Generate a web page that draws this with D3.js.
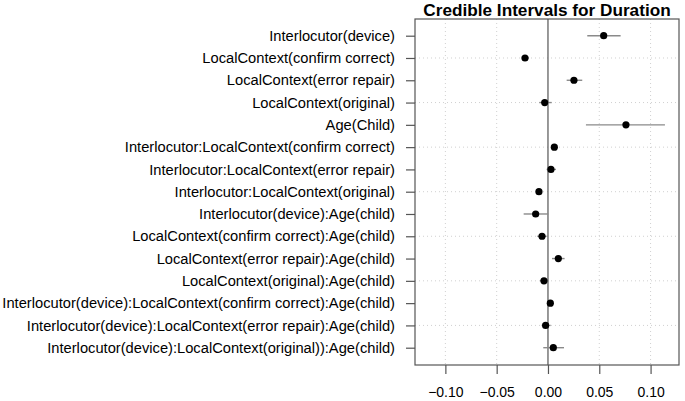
<!DOCTYPE html>
<html>
<head>
<meta charset="utf-8">
<script src="https://cdn.jsdelivr.net/npm/d3@7"></script>
<style>
  body { margin: 0; background: #fff; }
  text { font-family: "Liberation Sans", Arial, Helvetica, sans-serif; }
</style>
</head>
<body>
<div id="chart"></div>
<script>
var terms = [
  "Interlocutor(device)",
  "LocalContext(confirm correct)",
  "LocalContext(error repair)",
  "LocalContext(original)",
  "Age(Child)",
  "Interlocutor:LocalContext(confirm correct)",
  "Interlocutor:LocalContext(error repair)",
  "Interlocutor:LocalContext(original)",
  "Interlocutor(device):Age(child)",
  "LocalContext(confirm correct):Age(child)",
  "LocalContext(error repair):Age(child)",
  "LocalContext(original):Age(child)",
  "Interlocutor(device):LocalContext(confirm correct):Age(child)",
  "Interlocutor(device):LocalContext(error repair):Age(child)",
  "Interlocutor(device):LocalContext(original)):Age(child)"
];
var estimate = [0.0543, -0.0224, 0.0253, -0.0032, 0.0760, 0.0062, 0.0029, -0.0088,
                -0.0120, -0.0058, 0.0101, -0.0039, 0.0023, -0.0023, 0.0052];
var lower = [0.0383, -0.0256, 0.0182, -0.0085, 0.0370, 0.0030, -0.0013, -0.0115,
             -0.0237, -0.0104, 0.0039, -0.0078, -0.0010, -0.0062, -0.0046];
var upper = [0.0708, -0.0185, 0.0334, 0.0036, 0.1140, 0.0090, 0.0078, -0.0060,
             0.0003, -0.0013, 0.0162, 0.0006, 0.0052, 0.0026, 0.0156];
var xTicks = [-0.10, -0.05, 0.00, 0.05, 0.10];

(function () {
  var width = 685, height = 401;
  var mLeft = 415, mRight = 679, mTop = 19, mBottom = 365;

  var svg = d3.select("#chart").append("svg")
    .attr("width", width).attr("height", height);

  var x = d3.scaleLinear().domain([-0.1296, 0.1277]).range([mLeft, mRight]);
  var y = d3.scalePoint().domain(terms).range([35.7, 347.7]);

  var rows = terms.map(function (t, i) {
    return {term: t, est: estimate[i], lo: lower[i], hi: upper[i], i: i};
  });

  // grid
  svg.selectAll(".vgrid").data(xTicks.filter(function (d) { return d !== 0; }))
    .enter().append("line")
    .attr("x1", function (d) { return x(d); }).attr("x2", function (d) { return x(d); })
    .attr("y1", mTop).attr("y2", mBottom)
    .attr("stroke", "#d0d0d0").attr("stroke-dasharray", "1,3");

  svg.selectAll(".hgrid").data(rows.filter(function (d) { return d.i % 2 === 1; }))
    .enter().append("line")
    .attr("x1", mLeft).attr("x2", mRight)
    .attr("y1", function (d) { return y(d.term); }).attr("y2", function (d) { return y(d.term); })
    .attr("stroke", "#d0d0d0").attr("stroke-dasharray", "1,3");

  // zero line
  svg.append("line")
    .attr("x1", x(0)).attr("x2", x(0)).attr("y1", mTop).attr("y2", mBottom)
    .attr("stroke", "#555").attr("stroke-width", 1.2);

  // box
  svg.append("rect")
    .attr("x", mLeft).attr("y", mTop).attr("width", mRight - mLeft).attr("height", mBottom - mTop)
    .attr("fill", "none").attr("stroke", "#555").attr("stroke-width", 1.2);

  // intervals + points
  svg.selectAll(".ci").data(rows).enter().append("line")
    .attr("x1", function (d) { return x(d.lo); }).attr("x2", function (d) { return x(d.hi); })
    .attr("y1", function (d) { return y(d.term); }).attr("y2", function (d) { return y(d.term); })
    .attr("stroke", "#8a8a8a").attr("stroke-width", 1.4);

  svg.selectAll(".pt").data(rows).enter().append("circle")
    .attr("cx", function (d) { return x(d.est); })
    .attr("cy", function (d) { return y(d.term); })
    .attr("r", 3.6).attr("fill", "#000");

  // y axis
  var yAxis = svg.append("g").attr("transform", "translate(" + mLeft + ",0)")
    .call(d3.axisLeft(y).tickSize(9).tickPadding(11));
  yAxis.select(".domain").remove();
  yAxis.selectAll("line").attr("stroke", "#555").attr("stroke-width", 1.2);
  yAxis.selectAll("text").attr("font-size", 14.7).attr("fill", "#000")
    .style("font-family", "'Liberation Sans', Arial, sans-serif");

  // x axis
  var xAxis = svg.append("g").attr("transform", "translate(0," + mBottom + ")")
    .call(d3.axisBottom(x).tickValues(xTicks).tickFormat(d3.format(".2f")).tickSize(9).tickPadding(13));
  xAxis.select(".domain").remove();
  xAxis.selectAll("line").attr("stroke", "#555").attr("stroke-width", 1.2);
  xAxis.selectAll("text").attr("font-size", 14).attr("fill", "#000")
    .style("font-family", "'Liberation Sans', Arial, sans-serif");

  // title
  svg.append("text")
    .attr("x", (mLeft + mRight) / 2).attr("y", 16)
    .attr("text-anchor", "middle")
    .attr("font-size", 17.2).attr("font-weight", "bold")
    .text("Credible Intervals for Duration");
})();
</script>
</body>
</html>
